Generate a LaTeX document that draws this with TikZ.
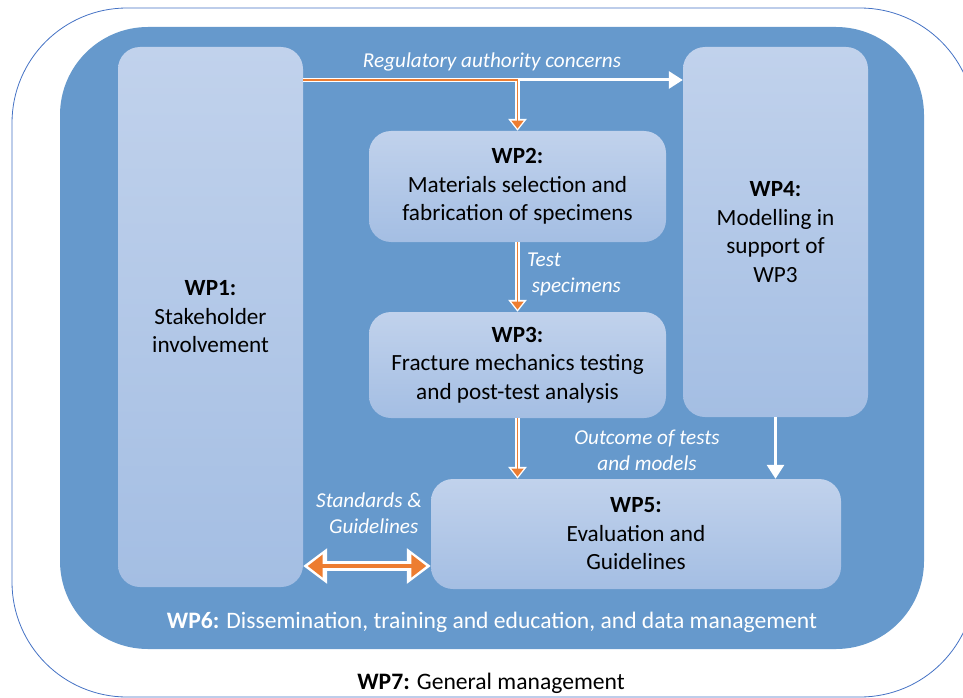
\documentclass[tikz,border=0pt]{standalone}
\usepackage{fontspec}
\setmainfont{Carlito}
\usetikzlibrary{positioning}
\usetikzlibrary{arrows.meta}

\definecolor{bgblue}{RGB}{102,153,204}
\definecolor{boxtop}{RGB}{193,210,236}
\definecolor{boxbot}{RGB}{164,190,227}
\definecolor{arrorange}{RGB}{237,125,49}
\definecolor{rimblue}{RGB}{68,114,196}

\begin{document}
\begin{tikzpicture}[x=1pt,y=-1pt,
  rim/.style={draw=rimblue,line width=0.8pt,rounded corners=115pt,inner sep=0pt},
  panel/.style={fill=bgblue,rounded corners=88pt,inner sep=0pt},
  wpbox/.style={rounded corners=22pt,top color=boxtop,bottom color=boxbot,inner sep=0pt,
    align=center,font=\fontsize{23.2}{28.5}\selectfont},
  lbl/.style={text=white,align=center,font=\fontsize{21.2}{26}\selectfont\itshape,inner sep=0pt},
  warrow/.style={white,line width=3pt,-{Triangle[length=14pt,width=17pt]}},
  oback/.style={white,line width=4.5pt,-{Triangle[length=12pt,width=18pt]}},
  otop/.style={arrorange,line width=1.6pt,-{Triangle[length=8pt,width=12pt]},shorten >=2.2pt},
  dback/.style={white,line width=10pt,{Triangle[length=24pt,width=34pt]}-{Triangle[length=24pt,width=34pt]}},
  dtop/.style={arrorange,line width=4pt,{Triangle[length=15pt,width=22pt]}-{Triangle[length=15pt,width=22pt]},shorten <=4.5pt,shorten >=4.5pt}
]
\useasboundingbox (0,0) rectangle (963,698);

\node[rim,minimum width=963pt,minimum height=689pt](wp7area) at (493.5,352.5){};
\node[panel,minimum width=864pt,minimum height=622pt](wp6area) at (492,338){};

\node[wpbox,minimum width=185pt,minimum height=540pt](wp1) at (210.5,317){\textbf{WP1:}\\Stakeholder\\involvement};
\node[wpbox,minimum width=297pt,minimum height=111pt](wp2) at (517.5,186.5){\textbf{WP2:}\\Materials selection and\\fabrication of specimens};
\node[wpbox,minimum width=297pt,minimum height=106pt](wp3) at (517.5,365){\textbf{WP3:}\\Fracture mechanics testing\\and post-test analysis};
\node[wpbox,minimum width=185pt,minimum height=370pt](wp4) at (775.5,232){\textbf{WP4:}\\Modelling in\\support of\\WP3};
\node[wpbox,minimum width=410pt,minimum height=110pt](wp5) at (636,534){\textbf{WP5:}\\Evaluation and\\Guidelines};

\node[lbl](reglbl) at (492,62){Regulatory authority concerns};
\node[lbl,align=left](testlbl) at (574,274){Test\\\ specimens};
\node[lbl](outlbl) at (647,450){Outcome of tests\\and models};
\node[lbl](stdlbl) at (369,513){Standards \&\\\ \ Guidelines};
\node[text=white,font=\fontsize{23.6}{28}\selectfont](wp6) at (492,622){\textbf{WP6:} Dissemination, training and education, and data management};
\node[font=\fontsize{23.6}{28}\selectfont](wp7) at (491,683){\textbf{WP7:} General management};

\coordinate (reg) at (517.5,80);
\coordinate (std) at (0,566);

% white arrows
\path
(wp1.east |- reg) edge[warrow] (wp4.west |- reg)
(wp4.south) edge[warrow] (wp4.south |- wp5.north);

% orange arrows with white rim
\path
(wp1.east |- reg) edge[white,line width=4.5pt] (reg)
(reg) edge[oback] (wp2.north)
(wp2.south) edge[oback] (wp3.north)
(wp3.south) edge[oback] (wp3.south |- wp5.north)
(wp1.east |- reg) edge[arrorange,line width=1.6pt] (reg)
(reg) edge[otop] (wp2.north)
(wp2.south) edge[otop] (wp3.north)
(wp3.south) edge[otop] (wp3.south |- wp5.north);

\path
(wp1.east |- std) edge[dback] (wp5.west |- std)
(wp1.east |- std) edge[dtop] (wp5.west |- std);
\end{tikzpicture}
\end{document}
